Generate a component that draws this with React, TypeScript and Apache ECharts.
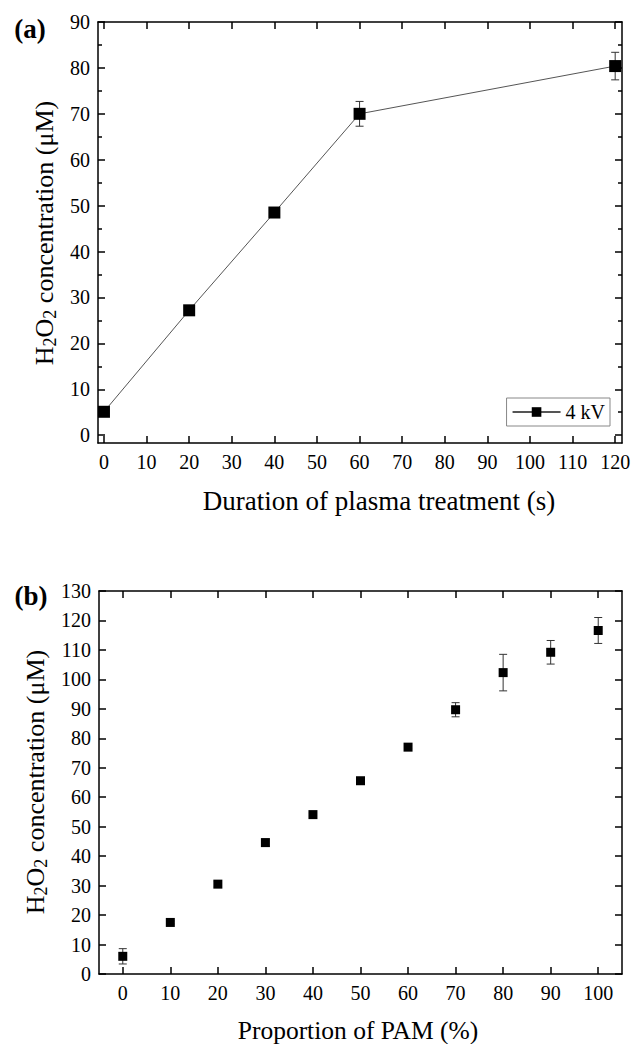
import React, { useEffect, useRef } from "react";
import * as echarts from "echarts";

// ---- Data ----
const timeSec = [0, 20, 40, 60, 120];
const h2o2Time = [5.1, 27.2, 48.5, 70.0, 80.4];
const h2o2TimeErr = [0.6, 0.6, 0.8, 2.7, 3.0];

const pamPct = [0, 10, 20, 30, 40, 50, 60, 70, 80, 90, 100];
const h2o2Pam = [6.0, 17.5, 30.5, 44.6, 54.1, 65.6, 77.0, 89.7, 102.3, 109.2, 116.6];
const h2o2PamErr = [2.6, 0.5, 1.0, 1.2, 0.5, 0.5, 0.5, 2.4, 6.2, 4.0, 4.4];

const timeTicks = [0, 10, 20, 30, 40, 50, 60, 70, 80, 90, 100, 110, 120];
const concTicksA = [0, 10, 20, 30, 40, 50, 60, 70, 80, 90];
const concMinorA = [5, 15, 25, 35, 45, 55, 65, 75, 85];
const pamTicks = [0, 10, 20, 30, 40, 50, 60, 70, 80, 90, 100];
const concTicksB = [0, 10, 20, 30, 40, 50, 60, 70, 80, 90, 100, 110, 120, 130];

const legendName = "4 kV";
const titleA_x = "Duration of plasma treatment (s)";
const titleB_x = "Proportion of PAM (%)";

const FONT = '"Liberation Serif", "Times New Roman", serif';
const AXIS_W = 1.5;

function errRender(params: any, api: any) {
  const x = api.value(0);
  const y = api.value(1);
  const e = api.value(2);
  const top = api.coord([x, y + e]);
  const bot = api.coord([x, y - e]);
  const cap = 4;
  const st = { stroke: "#333", lineWidth: 1 };
  return {
    type: "group",
    children: [
      { type: "line", shape: { x1: top[0], y1: top[1], x2: bot[0], y2: bot[1] }, style: st },
      { type: "line", shape: { x1: top[0] - cap, y1: top[1], x2: top[0] + cap, y2: top[1] }, style: st },
      { type: "line", shape: { x1: bot[0] - cap, y1: bot[1], x2: bot[0] + cap, y2: bot[1] }, style: st },
    ],
  };
}

function xAx(gridIndex: number, pos: string, min: number, max: number, ticks: number[], labels: boolean) {
  return {
    type: "value",
    gridIndex,
    position: pos,
    min,
    max,
    axisLine: { show: true, onZero: false, lineStyle: { color: "#000", width: AXIS_W } },
    axisTick: { show: true, inside: true, length: 7, customValues: ticks, lineStyle: { color: "#000", width: AXIS_W } },
    axisLabel: labels
      ? { show: true, customValues: ticks, fontSize: 20, fontFamily: FONT, color: "#000", margin: 9 }
      : { show: false },
    splitLine: { show: false },
  };
}

function yAx(gridIndex: number, pos: string, min: number, max: number, ticks: number[], labels: boolean, len: number, line: boolean) {
  return {
    type: "value",
    gridIndex,
    position: pos,
    min,
    max,
    axisLine: { show: line, onZero: false, lineStyle: { color: "#000", width: AXIS_W } },
    axisTick: { show: true, inside: true, length: len, customValues: ticks, lineStyle: { color: "#000", width: AXIS_W } },
    axisLabel: labels
      ? { show: true, customValues: ticks, fontSize: 20, fontFamily: FONT, color: "#000", margin: 8 }
      : { show: false },
    splitLine: { show: false },
  };
}

const richTitle = {
  m: { fontSize: 26, fontFamily: FONT, fill: "#000", lineHeight: 30 },
  s: { fontSize: 18, fontFamily: FONT, fill: "#000", lineHeight: 12, verticalAlign: "bottom" },
};
const yTitleText = "{m|H}{s|2}{m|O}{s|2}{m| concentration (μM)}";

export default function App() {
  const ref = useRef<HTMLDivElement>(null);
  useEffect(() => {
    if (!ref.current) return;
    const chart = echarts.init(ref.current, null, { renderer: "svg" });
    const option: any = {
      animation: false,
      backgroundColor: "#fff",
      grid: [
        { left: 98, top: 22, width: 524, height: 421 },
        { left: 99, top: 591, width: 523, height: 383 },
      ],
      xAxis: [
        xAx(0, "bottom", -1.4, 121.6, timeTicks, true),
        xAx(0, "top", -1.4, 121.6, timeTicks, false),
        xAx(1, "bottom", -5, 105, pamTicks, true),
        xAx(1, "top", -5, 105, pamTicks, false),
      ],
      yAxis: [
        yAx(0, "left", -1.7, 90, concTicksA, true, 7, true),
        yAx(0, "left", -1.7, 90, concMinorA, false, 4, false),
        yAx(0, "right", -1.7, 90, concTicksA, false, 7, true),
        yAx(0, "right", -1.7, 90, concMinorA, false, 4, false),
        yAx(1, "left", 0, 130, concTicksB, true, 7, true),
        yAx(1, "right", 0, 130, concTicksB, false, 7, true),
      ],
      legend: {
        data: [legendName],
        right: 24,
        top: 398,
        itemWidth: 48,
        itemHeight: 12,
        padding: [4, 5, 4, 5],
        borderColor: "#888",
        borderWidth: 1,
        borderRadius: 0,
        backgroundColor: "#fff",
        textStyle: { fontSize: 20, fontFamily: FONT, color: "#000" },
      },
      series: [
        {
          type: "custom",
          name: "errA",
          xAxisIndex: 0,
          yAxisIndex: 0,
          renderItem: errRender,
          encode: { x: 0, y: 1 },
          data: timeSec.map((t, i) => [t, h2o2Time[i], h2o2TimeErr[i]]),
          z: 2,
        },
        {
          type: "line",
          name: legendName,
          xAxisIndex: 0,
          yAxisIndex: 0,
          data: timeSec.map((t, i) => [t, h2o2Time[i]]),
          symbol: "rect",
          symbolSize: 12,
          lineStyle: { color: "#555", width: 1 },
          itemStyle: { color: "#000", opacity: 1 },
          z: 3,
        },
        {
          type: "custom",
          name: "errB",
          xAxisIndex: 2,
          yAxisIndex: 4,
          renderItem: errRender,
          encode: { x: 0, y: 1 },
          data: pamPct.map((p, i) => [p, h2o2Pam[i], h2o2PamErr[i]]),
          z: 2,
        },
        {
          type: "scatter",
          name: "PAM",
          xAxisIndex: 2,
          yAxisIndex: 4,
          data: pamPct.map((p, i) => [p, h2o2Pam[i]]),
          symbol: "rect",
          symbolSize: 9,
          itemStyle: { color: "#000", opacity: 1 },
          z: 3,
        },
      ],
      graphic: [
        { type: "text", x: 30, y: 29, style: { text: "(a)", fontSize: 27, fontWeight: "bold", fontFamily: FONT, fill: "#000", align: "center", verticalAlign: "middle" } },
        { type: "text", x: 31, y: 596, style: { text: "(b)", fontSize: 27, fontWeight: "bold", fontFamily: FONT, fill: "#000", align: "center", verticalAlign: "middle" } },
        { type: "text", x: 379, y: 501, style: { text: titleA_x, fontSize: 27, fontFamily: FONT, fill: "#000", align: "center", verticalAlign: "middle" } },
        { type: "text", x: 358, y: 1030, style: { text: titleB_x, fontSize: 25.5, fontFamily: FONT, fill: "#000", align: "center", verticalAlign: "middle" } },
        { type: "text", x: 44, y: 233, rotation: Math.PI / 2, style: { text: yTitleText, rich: richTitle, align: "center", verticalAlign: "middle" } },
        { type: "text", x: 35, y: 782, rotation: Math.PI / 2, style: { text: yTitleText, rich: richTitle, align: "center", verticalAlign: "middle" } },
      ],
    };
    chart.setOption(option);
    return () => chart.dispose();
  }, []);
  return <div ref={ref} style={{ position: "absolute", left: 0, top: 0, width: 634, height: 1044 }} />;
}
